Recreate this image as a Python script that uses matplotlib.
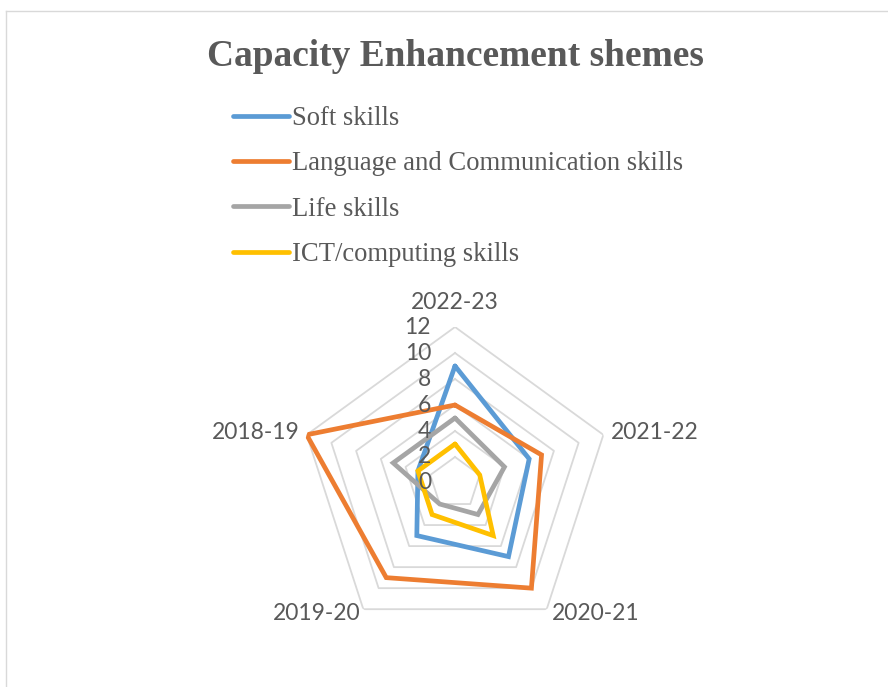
import numpy as np
import matplotlib.pyplot as plt
import matplotlib.transforms as mtransforms
from matplotlib.lines import Line2D

# data
years = ['2022-23', '2021-22', '2020-21', '2019-20', '2018-19']
soft = [9, 6, 7, 5, 3]
language = [6, 7, 10, 9, 12]
life = [5, 4, 3, 2, 5]
ict = [3, 2, 5, 3, 3]
series_names = ['Soft skills', 'Language and Communication skills',
                'Life skills', 'ICT/computing skills']
levels = [0, 2, 4, 6, 8, 10, 12]

colors = ['#5B9BD5', '#ED7D31', '#A5A5A5', '#FFC000']
text_color = '#595959'
label_font = 'Lato'
serif = 'Liberation Serif'

fig = plt.figure(figsize=(8.88, 6.87), dpi=100)

# thin frame like the original chart area
fig.add_artist(Line2D([5.5/888, 5.5/888], [0, 1 - 10.5/687], color='#D9D9D9', lw=1,
                      transform=fig.transFigure))
fig.add_artist(Line2D([5.5/888, 1], [1 - 10.5/687, 1 - 10.5/687], color='#D9D9D9', lw=1,
                      transform=fig.transFigure))

ax = fig.add_axes([0.3367, 0.0699, 0.3514, 0.4541], projection='polar')
ax.set_theta_offset(np.pi / 2)
ax.set_theta_direction(-1)
ax.set_ylim(0, 12)
ax.grid(False)
ax.spines['polar'].set_visible(False)
ax.set_xticks([])
ax.set_yticks([])
ax.patch.set_alpha(0)

angles = np.linspace(0, 2 * np.pi, len(years), endpoint=False)
closed = np.append(angles, angles[0])

# pentagon gridlines
for lv in levels[1:]:
    ax.plot(closed, [lv] * len(closed), color='#D9D9D9', lw=1.3, zorder=1)

for vals, name, c in zip([soft, language, life, ict], series_names, colors):
    ax.plot(closed, vals + vals[:1], color=c, lw=3.4, label=name, zorder=3,
            solid_joinstyle='miter', solid_capstyle='round')

# value labels along the top spoke (drawn above the series)
tick_tr = mtransforms.offset_copy(ax.transData, fig=fig, x=-24, y=0, units='dots')
for lv in levels:
    ax.text(0, lv, str(lv), transform=tick_tr, ha='right', va='center',
            fontsize=16.5, family=label_font, color=text_color, zorder=4)

# category labels around the outer ring
cat_offsets = [(0, 25, 'center'), (8, 2, 'left'), (5, -4, 'left'),
               (-3, -4, 'right'), (-7, 2, 'right')]
for ang, yr, (dx, dy, ha) in zip(angles, years, cat_offsets):
    tr = mtransforms.offset_copy(ax.transData, fig=fig, x=dx, y=dy, units='dots')
    ax.text(ang, 12, yr, transform=tr, ha=ha, va='center', fontsize=16.5,
            family=label_font, color=text_color)

fig.text(455/888, 1 - 56/687, 'Capacity Enhancement shemes', ha='center', va='center',
         fontsize=26.9, fontweight='bold', family=serif, color=text_color)

fig.legend(loc='upper left', bbox_to_anchor=(233/888, 1 - 106/687), frameon=False,
           prop={'family': serif, 'size': 19.2}, labelcolor=text_color,
           handlelength=2.1, handletextpad=0.12, labelspacing=0.765,
           borderpad=0, borderaxespad=0)

fig.savefig('out.png', dpi=100)
